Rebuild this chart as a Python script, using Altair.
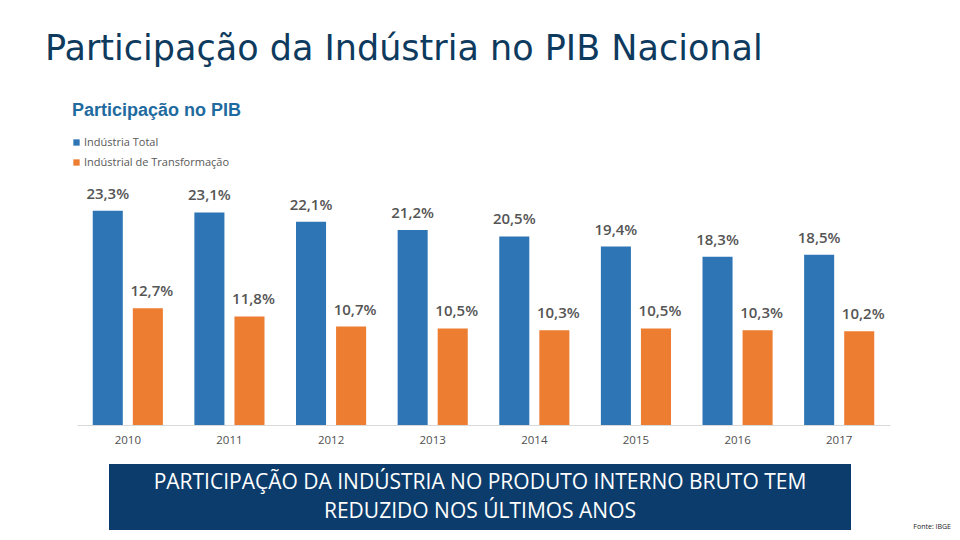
import altair as alt
import pandas as pd

years = ["2010", "2011", "2012", "2013", "2014", "2015", "2016", "2017"]
total = [23.3, 23.1, 22.1, 21.2, 20.5, 19.4, 18.3, 18.5]
transf = [12.7, 11.8, 10.7, 10.5, 10.3, 10.5, 10.3, 10.2]
series = ["Indústria Total", "Indústrial de Transformação"]
colors = ["#2E75B6", "#ED7D31"]

rows = []
for y, a, b in zip(years, total, transf):
    rows.append({"ano": y, "serie": series[0], "valor": a, "ordem": 0})
    rows.append({"ano": y, "serie": series[1], "valor": b, "ordem": 1})
df = pd.DataFrame(rows)
df["rotulo"] = df["valor"].map(lambda v: f"{v:.1f}".replace(".", ",") + "%")

FONT = "Open Sans"

x = alt.X("ano:N", title=None, sort=years,
          scale=alt.Scale(paddingInner=0.31, paddingOuter=0.155),
          axis=alt.Axis(labelAngle=0, ticks=False, domainColor="#D9D9D9",
                        labelColor="#4F4F4F", labelFontSize=11.5, labelFont=FONT,
                        labelPadding=9, grid=False))
y = alt.Y("valor:Q", title=None, scale=alt.Scale(domain=[0, 25]), axis=None)
xo = alt.XOffset("serie:N", sort=series,
                 scale=alt.Scale(paddingInner=0.25, paddingOuter=0))

bars = alt.Chart(df).mark_bar().encode(
    x=x, y=y, xOffset=xo,
    color=alt.Color("serie:N", sort=series,
                    scale=alt.Scale(domain=series, range=colors),
                    legend=alt.Legend(title=None, orient="none", legendX=-6, legendY=-58,
                                      direction="vertical", symbolType="square",
                                      symbolSize=40, labelFontSize=11, labelFont=FONT,
                                      labelColor="#595959", rowPadding=8,
                                      symbolStrokeWidth=0, labelOffset=2)),
)

lab_total = alt.Chart(df[df["ordem"] == 0]).mark_text(
    baseline="bottom", dy=-9, fontSize=15, font=FONT, fontWeight=600, color="#555555"
).encode(x=x, y=y, xOffset=xo, text="rotulo:N")

lab_transf = alt.Chart(df[df["ordem"] == 1]).mark_text(
    baseline="bottom", dy=-9, dx=4, fontSize=15, font=FONT, fontWeight=600, color="#555555"
).encode(x=x, y=y, xOffset=xo, text="rotulo:N")

titulo = alt.Chart(pd.DataFrame({"t": ["Participação da Indústria no PIB Nacional"]})).mark_text(
    align="left", baseline="middle", fontSize=35, font="DejaVu Sans", color="#0E3A5E"
).encode(x=alt.value(-32), y=alt.value(-146), text="t:N")

subtitulo = alt.Chart(pd.DataFrame({"t": ["Participação no PIB"]})).mark_text(
    align="left", baseline="middle", fontSize=18, font="Liberation Sans", fontWeight="bold",
    color="#1F6A9E"
).encode(x=alt.value(-5), y=alt.value(-84), text="t:N")

caixa = alt.Chart(pd.DataFrame({"a": [1]})).mark_rect(color="#0B3C6B").encode(
    x=alt.value(32), x2=alt.value(774), y=alt.value(269), y2=alt.value(335)
)

texto_caixa = alt.Chart(pd.DataFrame({
    "t": ["PARTICIPAÇÃO DA INDÚSTRIA NO PRODUTO INTERNO BRUTO TEM", "REDUZIDO NOS ÚLTIMOS ANOS"],
    "yy": [288, 317],
})).mark_text(
    align="center", baseline="middle", fontSize=21, font=FONT, color="white"
).encode(x=alt.value(403), y=alt.Y("yy:Q", scale=None), text="t:N")

fonte = alt.Chart(pd.DataFrame({"t": ["Fonte: IBGE"]})).mark_text(
    align="right", baseline="middle", fontSize=7, font=FONT, color="#222222"
).encode(x=alt.value(874), y=alt.value(332), text="t:N")

chart = alt.layer(bars, lab_total, lab_transf, titulo, subtitulo, caixa, texto_caixa, fonte).properties(
    width=813, height=230,
    autosize=alt.AutoSizeParams(type="none"),
    padding={"left": 69, "top": 187, "right": 62, "bottom": 107},
).configure(font=FONT).configure_view(stroke=None)

chart.save("out.html", embed_options={"renderer": "svg", "actions": False})
